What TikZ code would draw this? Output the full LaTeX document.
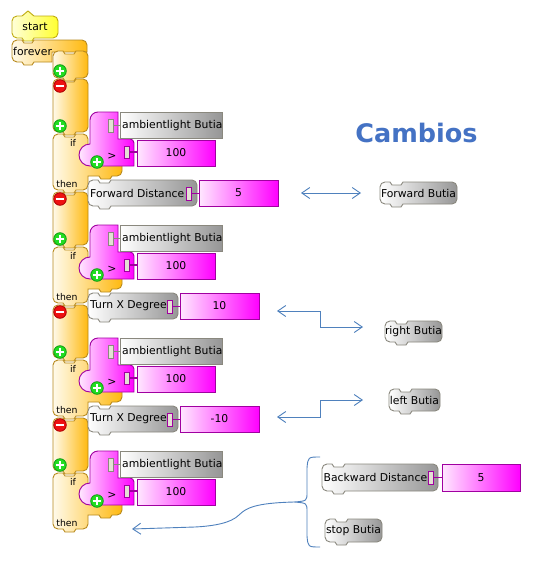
\documentclass[tikz,border=0pt]{standalone}
\usepackage{fontspec}
\setmainfont{DejaVu Sans}
\usetikzlibrary{arrows.meta}
\definecolor{orL}{HTML}{FFFAEA}
\definecolor{orR}{HTML}{FFB90F}
\definecolor{orD}{HTML}{B88A1E}
\definecolor{gyL}{HTML}{FFFFFF}
\definecolor{gyR}{HTML}{969696}
\definecolor{gyD}{HTML}{8A887E}
\definecolor{mgL}{HTML}{FFE8FF}
\definecolor{mgR}{HTML}{FF00FF}
\definecolor{mgD}{HTML}{A000A0}
\definecolor{ylL}{HTML}{FFFFD8}
\definecolor{ylR}{HTML}{FFFF30}
\definecolor{ylD}{HTML}{C0AC10}
\definecolor{arr}{HTML}{4F81BD}
\definecolor{cam}{HTML}{4472C4}
\definecolor{grF}{HTML}{22DD22}
\definecolor{grD}{HTML}{119911}
\definecolor{rdF}{HTML}{EE1111}
\definecolor{rdD}{HTML}{AA0000}
\definecolor{plg}{HTML}{E4E0D4}
\newcommand{\bfnt}{\fontsize{10.8}{12}\selectfont}
\newcommand{\sfnt}{\fontsize{9.3}{10}\selectfont}
% block with notch on top and bump at bottom: style, x0, y0, x1, y1
\newcommand{\blk}[5]{\path[#1] (#2,#3+5) arc[start angle=180,end angle=270,radius=5]
  -- (#2+10,#3) -- (#2+12,#3+3) -- (#2+21,#3+3) -- (#2+23,#3)
  -- (#4-5,#3) arc[start angle=270,end angle=360,radius=5]
  -- (#4,#5-5) arc[start angle=0,end angle=90,radius=5]
  -- (#2+23,#5) -- (#2+21,#5+3) -- (#2+12,#5+3) -- (#2+10,#5)
  -- (#2+5,#5) arc[start angle=90,end angle=180,radius=5] -- cycle;}
\newcommand{\plusc}[2]{\path[fill=grF,draw=grD,line width=0.8pt] (#1,#2) circle[radius=6.3];
  \draw[white,line width=2.2pt] (#1-3.8,#2) -- (#1+3.8,#2) (#1,#2-3.8) -- (#1,#2+3.8);}
\newcommand{\minusc}[2]{\path[fill=rdF,draw=rdD,line width=0.8pt] (#1,#2) circle[radius=6.3];
  \draw[white,line width=2.2pt] (#1-3.8,#2) -- (#1+3.8,#2);}
\begin{document}
\begin{tikzpicture}[x=1pt,y=-1pt,
  every node/.style={inner sep=0pt,font=\bfnt},
  orblk/.style={draw=orD,line width=0.9pt,left color=orL,right color=orR},
  gyblk/.style={draw=gyD,line width=0.9pt,left color=gyL,right color=gyR},
  mgbox/.style={draw=mgD,line width=0.9pt,left color=mgL,right color=mgR},
  ylblk/.style={draw=ylD,line width=0.9pt,left color=ylL,right color=ylR},
  plugw/.style={fill=plg,draw=gyD,line width=0.8pt},
  arrline/.style={draw=arr,line width=0.9pt},
  >={Straight Barb[length=8pt,width=11pt]}]
\fill[white] (0,0) rectangle (544,568);
\useasboundingbox (0,0) rectangle (544,568);

% start block
\path[ylblk] (12,21) arc[start angle=180,end angle=270,radius=5] -- (22,16) -- (28,11) -- (34,16)
  -- (53,16) arc[start angle=270,end angle=360,radius=5] -- (58,33) arc[start angle=0,end angle=90,radius=5]
  -- (34,38) -- (32,41) -- (24,41) -- (22,38) -- (17,38) arc[start angle=90,end angle=180,radius=5] -- cycle;
\node (start) at (35,27) {start};

% forever block
\path[orblk] (12,45) arc[start angle=180,end angle=270,radius=5] -- (22,40) -- (24,43) -- (32,43) -- (34,40)
  -- (82,40) arc[start angle=270,end angle=360,radius=5] -- (87,52) -- (52,52) -- (52,62)
  -- (34,62) -- (32,65) -- (24,65) -- (22,62) -- (17,62) arc[start angle=90,end angle=180,radius=5] -- cycle;
\node[anchor=west] (forever) at (13,51) {forever};
\blk{orblk}{53}{51}{88}{78}
\plusc{60}{71}

% repeated if units
\foreach \i in {0,1,2,3}{
  \pgfmathsetmacro\dy{113*\i}
  \blk{orblk}{53}{79+\dy}{88}{132+\dy}
  \minusc{60}{86+\dy}
  \plusc{60}{126+\dy}
  % if block
  \path[orblk] (53,139+\dy) arc[start angle=180,end angle=270,radius=5] -- (63,134+\dy) -- (65,137+\dy) -- (74,137+\dy) -- (76,134+\dy)
    -- (83,134+\dy) arc[start angle=270,end angle=360,radius=5] -- (88,158+\dy) -- (117,158+\dy)
    arc[start angle=270,end angle=360,radius=5] -- (122,171+\dy) arc[start angle=0,end angle=90,radius=5]
    -- (112,176+\dy) -- (110,179+\dy) -- (101,179+\dy) -- (99,176+\dy) -- (88,176+\dy) -- (88,185+\dy)
    arc[start angle=0,end angle=90,radius=5] -- (76,190+\dy) -- (74,193+\dy) -- (65,193+\dy) -- (63,190+\dy)
    -- (58,190+\dy) arc[start angle=90,end angle=180,radius=5] -- cycle;
  \node[font=\sfnt] (if\i) at (73,143+\dy) {if};
  \node[font=\sfnt] (then\i) at (67,184+\dy) {then};
  % comparator
  \path[mgbox] (90,120+\dy) arc[start angle=180,end angle=270,radius=8] -- (118,112+\dy) -- (118,139+\dy)
    -- (130,139+\dy) arc[start angle=270,end angle=360,radius=4] -- (134,166+\dy) -- (90,166+\dy)
    arc[start angle=90,end angle=270,radius=11] -- cycle;
  \path[gyblk] (120,112+\dy) rectangle (222,138+\dy);
  \node[anchor=west] (amb\i) at (122,125.5+\dy) {ambientlight Butia};
  \path[plugw] (108,119+\dy) rectangle (113,132+\dy);
  \draw[gyD,line width=1.4pt] (113,125.5+\dy) -- (120,125.5+\dy);
  \path[mgbox] (137,140+\dy) rectangle (215,166+\dy);
  \node (num\i) at (176,153+\dy) {100};
  \path[plugw,draw=mgD] (124,146+\dy) rectangle (129,158+\dy);
  \draw[mgD,line width=1.4pt] (129,152+\dy) -- (137,152+\dy);
  \node (gt\i) at (112,156+\dy) {>};
  \plusc{97}{162+\dy}
}

% action blocks
\foreach \i/\txt/\xa/\val in {0/Forward Distance/197/5,1/Turn X Degree/178/10,2/Turn X Degree/178/-10}{
  \pgfmathsetmacro\dy{113*\i}
  \blk{gyblk}{88}{180+\dy}{\xa}{206+\dy}
  \node[anchor=west] (act\i) at (90,193+\dy) {\txt};
  \path[mgbox] (\xa+2,180+\dy) rectangle (\xa+81,206+\dy);
  \node (val\i) at (\xa+41.5,193+\dy) {\val};
  \path[plugw,draw=mgD] (\xa-11,187+\dy) rectangle (\xa-6,200+\dy);
  \draw[mgD,line width=1.4pt] (\xa-6,193.5+\dy) -- (\xa+2,193.5+\dy);
}

% title
\node[font=\fontsize{25.5}{28}\selectfont\bfseries,text=cam,anchor=base] (cambios) at (416.5,142) {Cambios};

% right-hand blocks
\blk{gyblk}{380}{182}{457}{204}
\node (fb) at (418.5,193) {Forward Butia};
\blk{gyblk}{385}{321}{442}{342}
\node (rb) at (413.5,331.5) {right Butia};
\blk{gyblk}{389}{389}{440}{411}
\node (lb) at (414.5,400) {left Butia};
\blk{gyblk}{322}{464}{438}{491}
\node[anchor=west] (bd) at (323.5,477.5) {Backward Distance};
\path[mgbox] (442,464) rectangle (520,491);
\node (bdv) at (481,477.5) {5};
\path[plugw,draw=mgD] (428,471) rectangle (433,484);
\draw[mgD,line width=1.4pt] (433,477.5) -- (442,477.5);
\blk{gyblk}{325}{519}{382}{542}
\node (sb) at (353.5,530.5) {stop Butia};

% connectors
\coordinate (d1) at (301,193);
\coordinate (d2) at (361,193);
\draw[arrline,<->] (d1) -- (d2);
\coordinate (e1) at (277,311);
\coordinate (e2) at (363,327);
\draw[arrline,<->] (e1) -- (320,311) -- (320,327) -- (e2);
\coordinate (f1) at (277,417);
\coordinate (f2) at (363,400);
\draw[arrline,<->] (f1) -- (320,417) -- (320,400) -- (f2);
\coordinate (tip) at (294,502);
\coordinate (cend) at (132,529);
\draw[arrline] (320,457) .. controls (308,457) .. (307,468) -- (307,492) .. controls (307,501) .. (tip)
  .. controls (307,503) .. (307,512) -- (307,536) .. controls (308,547) .. (320,547);
\draw[arrline,->] (tip) .. controls (255,503) and (246,508) .. (239,515) .. controls (231,523) and (214,526) .. (195,527) -- (cend);
\end{tikzpicture}
\end{document}
